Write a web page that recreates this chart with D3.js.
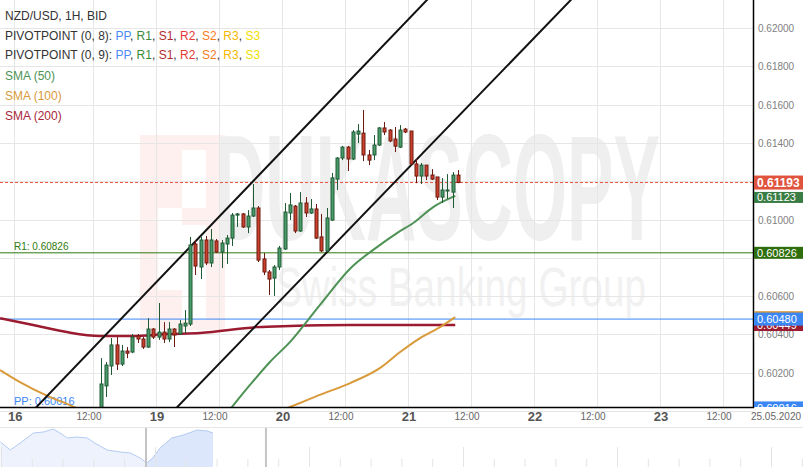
<!DOCTYPE html>
<html>
<head>
<meta charset="utf-8">
<script src="https://cdn.jsdelivr.net/npm/d3@7"></script>
<style>
  body { margin: 0; background: #fff; }
  svg { display: block; font-family: "Liberation Sans", Arial, sans-serif; }
</style>
</head>
<body>
<div id="chart"></div>
<script>
// hours are counted from 18.05.2020 00:00, one candle per hour
const firstCandleHour = 13;
const opens = [0.59995,0.60131,0.60235,0.60345,0.60245,0.60313,0.60308,0.60392,0.60376,0.60334,
  0.60428,0.60386,0.60412,0.60376,0.60428,0.60402,0.60444,0.60454,0.60872,0.60752,
  0.60893,0.60773,0.60888,0.60830,0.60872,0.60903,0.61023,0.61029,0.60961,0.61018,
  0.61060,0.60794,0.60726,0.60694,0.60752,0.60846,0.61034,0.61070,0.60940,0.61086,
  0.61034,0.61055,0.60909,0.60836,0.60997,0.61211,0.61321,0.61378,0.61316,0.61446,
  0.61451,0.61337,0.61337,0.61389,0.61478,0.61467,0.61420,0.61378,0.61472,0.61462,
  0.61290,0.61227,0.61284,0.61232,0.61222,0.61117,0.61149,0.61143,0.61232];
const highs = [0.60276,0.60256,0.60381,0.60386,0.60345,0.60334,0.60402,0.60402,0.60386,0.60485,
  0.60433,0.60564,0.60464,0.60464,0.60433,0.60475,0.60527,0.60909,0.60893,0.60909,
  0.60914,0.60950,0.60898,0.60893,0.60919,0.61034,0.61034,0.61034,0.61049,0.61185,
  0.61070,0.60825,0.60736,0.60762,0.60862,0.61086,0.61138,0.61076,0.61143,0.61117,
  0.61107,0.61081,0.61029,0.61060,0.61243,0.61326,0.61384,0.61384,0.61467,0.61498,
  0.61572,0.61363,0.61441,0.61483,0.61509,0.61472,0.61483,0.61493,0.61478,0.61462,
  0.61316,0.61295,0.61284,0.61263,0.61222,0.61216,0.61237,0.61248,0.61258];
const lows = [0.59953,0.60073,0.60188,0.60214,0.60235,0.60276,0.60302,0.60355,0.60324,0.60329,
  0.60376,0.60371,0.60355,0.60360,0.60334,0.60397,0.60407,0.60444,0.60710,0.60689,
  0.60762,0.60752,0.60825,0.60747,0.60768,0.60862,0.60961,0.60956,0.60929,0.61013,
  0.60778,0.60710,0.60606,0.60601,0.60736,0.60841,0.60997,0.60929,0.60935,0.61013,
  0.61029,0.60898,0.60830,0.60830,0.60992,0.61154,0.61310,0.61253,0.61310,0.61399,
  0.61305,0.61284,0.61310,0.61384,0.61441,0.61404,0.61352,0.61373,0.61451,0.61284,
  0.61190,0.61185,0.61206,0.61206,0.61102,0.61086,0.61107,0.61060,0.61190];
const closes = [0.60141,0.60240,0.60345,0.60245,0.60313,0.60302,0.60386,0.60376,0.60334,0.60428,
  0.60386,0.60412,0.60376,0.60428,0.60397,0.60454,0.60459,0.60867,0.60757,0.60893,
  0.60773,0.60893,0.60830,0.60877,0.60903,0.61023,0.61029,0.60961,0.61018,0.61060,
  0.60788,0.60726,0.60689,0.60752,0.60851,0.61039,0.61076,0.60940,0.61086,0.61034,
  0.61055,0.60903,0.60836,0.61008,0.61217,0.61321,0.61378,0.61316,0.61457,0.61462,
  0.61337,0.61310,0.61389,0.61478,0.61457,0.61410,0.61383,0.61467,0.61457,0.61290,
  0.61227,0.61284,0.61227,0.61211,0.61117,0.61154,0.61154,0.61232,0.61193];

// moving averages, [hour, price]
const sma50 = [[37.1,0.59974],[41.9,0.60136],[45.7,0.60256],[49.5,0.60360],[55.2,0.60553],
  [61.1,0.60747],[66.1,0.60856],[69.9,0.60929],[73.0,0.60982],[76.8,0.61065],[81.0,0.61123]];
const sma100 = [[-5.7,0.60214],[-1.9,0.60151],[2.9,0.60084],[7.6,0.60031],[10.5,0.59995],
  [22.9,0.59927],[41.9,0.59953],[49.5,0.60021],[55.2,0.60084],[61.0,0.60146],[66.7,0.60225],
  [70.5,0.60308],[74.3,0.60381],[78.1,0.60438],[81.0,0.60490]];
const sma200 = [[-5.7,0.60485],[0.6,0.60449],[7.0,0.60412],[13.3,0.60392],[19.6,0.60392],
  [26.1,0.60402],[32.4,0.60407],[43.2,0.60438],[49.5,0.60444],[61.0,0.60449],[70.5,0.60449],[81.0,0.60449]];

// drawn trend channel, two anchor points each
const channelUpper = [[0.2,0.59991],[75.6,0.62146]];
const channelLower = [[27.0,0.59991],[103.0,0.62146]];

const pivotR1 = 0.60826, pivotPP = 0.60480, pivotPPLow = 0.60016;
const lastPrice = 0.61193;

const priceTicks = d3.range(0.600, 0.6205, 0.002);
const dayTickHours = [-3, 24, 48, 72, 96, 120];
const dayTickLabels = ["16", "19", "20", "21", "22", "23"];
const noonTickHours = [12, 36, 60, 84, 108, 132];

// overview strip under the chart
const navHours = [-176,-164,-152,-136,-124,-112,-104,-95,-83,-71,-62,-47,-31,-19,-7,1,8,17,31,45,62,74,81];
const navValues = [0.6025,0.5985,0.602,0.607,0.6075,0.609,0.607,0.6045,0.605,0.6045,0.602,0.5985,
  0.5975,0.597,0.5945,0.592,0.5945,0.5995,0.6045,0.606,0.6085,0.608,0.607];

const W = 803, H = 467;
const plotW = 753, plotH = 407;

const x = d3.scaleLinear().domain([-5.714, 137.714]).range([0, plotW]);
const y = d3.scaleLinear().domain([0.600209, 0.621462]).range([plotH, 0]);

const svg = d3.select('#chart').append('svg')
  .attr('width', W).attr('height', H);

svg.append('defs').append('clipPath').attr('id', 'plot')
  .append('rect').attr('width', plotW).attr('height', plotH);
svg.select('defs').append('clipPath').attr('id', 'tags')
  .append('rect').attr('x', plotW).attr('width', W - plotW).attr('height', plotH);

// watermark
const wm = svg.append('g').attr('clip-path', 'url(#plot)');
wm.append('rect').attr('x', 140).attr('y', 135).attr('width', 85).attr('height', 195).attr('fill', '#fdf0ef');
wm.append('rect').attr('x', 158).attr('y', 208).attr('width', 24).attr('height', 82).attr('fill', '#fff');
wm.append('rect').attr('x', 182).attr('y', 150).attr('width', 24).attr('height', 58).attr('fill', '#fff');
wm.append('rect').attr('x', 182).attr('y', 225).attr('width', 24).attr('height', 95).attr('fill', '#fff');

// squeeze a text horizontally so it spans the given width
function stretchText(g, str, left, base, size, width, fill, weight) {
  const t = g.append('text').attr('font-size', size).attr('font-weight', weight)
    .attr('fill', fill).text(str);
  const w = t.node().getComputedTextLength();
  t.attr('transform', `translate(${left},${base}) scale(${width / w},1)`);
}
stretchText(wm, 'DUKASCOPY', 215, 240, 150, 445, '#efefef', 'bold');
stretchText(wm, 'Swiss Banking Group', 276, 306, 55, 370, '#f1f1f1', 'normal');

// grid
const grid = svg.append('g').attr('stroke', '#e6e6e6').attr('stroke-width', 1);
grid.selectAll('line.h').data(priceTicks).join('line')
  .attr('x1', 0).attr('x2', plotW)
  .attr('y1', d => Math.round(y(d)) + 0.5).attr('y2', d => Math.round(y(d)) + 0.5);
grid.selectAll('line.v').data(dayTickHours.concat(noonTickHours)).join('line')
  .attr('y1', 0).attr('y2', plotH)
  .attr('x1', d => Math.round(x(d)) + 0.5).attr('x2', d => Math.round(x(d)) + 0.5);

const plot = svg.append('g').attr('clip-path', 'url(#plot)');

// pivot levels
plot.append('line').attr('x1', 0).attr('x2', plotW)
  .attr('y1', y(pivotR1)).attr('y2', y(pivotR1))
  .attr('stroke', '#2f7a0f').attr('stroke-width', 1);
plot.append('line').attr('x1', 0).attr('x2', plotW)
  .attr('y1', y(pivotPP)).attr('y2', y(pivotPP))
  .attr('stroke', '#3b86f5').attr('stroke-width', 1);
plot.append('line').attr('x1', 0).attr('x2', plotW)
  .attr('y1', y(pivotPPLow)).attr('y2', y(pivotPPLow))
  .attr('stroke', '#3b86f5').attr('stroke-width', 1);
plot.append('line').attr('x1', 0).attr('x2', plotW)
  .attr('y1', y(lastPrice)).attr('y2', y(lastPrice))
  .attr('stroke', '#e8553f').attr('stroke-width', 1).attr('stroke-dasharray', '3,2');

plot.append('text').attr('x', 14).attr('y', y(pivotR1) - 3)
  .attr('font-size', 10).attr('fill', '#2f7a0f').text('R1: ' + pivotR1.toFixed(5));
plot.append('text').attr('x', 14).attr('y', y(pivotPPLow) - 3)
  .attr('font-size', 11).attr('fill', '#3b86f5').text('PP: ' + pivotPPLow.toFixed(5));

// moving averages
const line = d3.line().x(d => x(d[0])).y(d => y(d[1])).curve(d3.curveMonotoneX);
plot.append('path').attr('d', line(sma200)).attr('fill', 'none')
  .attr('stroke', '#9b1b30').attr('stroke-width', 2.5);
plot.append('path').attr('d', line(sma100)).attr('fill', 'none')
  .attr('stroke', '#d99a3a').attr('stroke-width', 2);
plot.append('path').attr('d', line(sma50)).attr('fill', 'none')
  .attr('stroke', '#4e9256').attr('stroke-width', 2);

// channel
function extend(pts) {
  const k = (pts[1][1] - pts[0][1]) / (pts[1][0] - pts[0][0]);
  const h0 = -10, h1 = 140;
  return [[h0, pts[0][1] + k * (h0 - pts[0][0])], [h1, pts[0][1] + k * (h1 - pts[0][0])]];
}
[channelUpper, channelLower].forEach(c => {
  plot.append('path').attr('d', d3.line().x(d => x(d[0])).y(d => y(d[1]))(extend(c)))
    .attr('stroke', '#111').attr('stroke-width', 2).attr('fill', 'none');
});

// candles
const candles = opens.map((o, i) => ({
  h: firstCandleHour + i, o: o, hi: highs[i], lo: lows[i], c: closes[i]
}));
const cg = plot.selectAll('g.candle').data(candles).join('g').attr('class', 'candle');
const up = d => d.c >= d.o;
cg.append('line')
  .attr('x1', d => Math.round(x(d.h + 0.5)) + 0.5).attr('x2', d => Math.round(x(d.h + 0.5)) + 0.5)
  .attr('y1', d => y(d.hi)).attr('y2', d => y(d.lo))
  .attr('stroke', d => up(d) ? '#1f5a34' : '#6e1a10').attr('stroke-width', 1);
cg.append('rect')
  .attr('x', d => Math.round(x(d.h + 0.5)) - 1)
  .attr('width', 3)
  .attr('y', d => y(Math.max(d.o, d.c)))
  .attr('height', d => Math.max(1, y(Math.min(d.o, d.c)) - y(Math.max(d.o, d.c))))
  .attr('fill', d => up(d) ? '#4b9a6a' : '#c9412e')
  .attr('stroke', d => up(d) ? '#1f5a34' : '#6e1a10').attr('stroke-width', 1);

// axes
svg.append('line').attr('x1', plotW + 0.5).attr('x2', plotW + 0.5).attr('y1', 0).attr('y2', plotH + 1)
  .attr('stroke', '#000').attr('stroke-width', 1.5);
svg.append('line').attr('x1', 0).attr('x2', plotW + 1).attr('y1', plotH + 0.5).attr('y2', plotH + 0.5)
  .attr('stroke', '#000').attr('stroke-width', 1.5);

// value tags on the price axis (listed first so that covered tick labels can be skipped)
const tagList = [
  { v: sma200[sma200.length - 1][1], h: 12, fill: '#9b1b30' },
  { v: sma100[sma100.length - 1][1], h: 12, fill: '#d99a3a' },
  { v: pivotPP, h: 13, fill: '#3b86f5' },
  { v: pivotPPLow, h: 13, fill: '#3b86f5' },
  { v: pivotR1, h: 12, fill: '#2f6e0c' },
  { v: lastPrice, h: 14, fill: '#e0533d', bold: true },
  { v: sma50[sma50.length - 1][1], h: 11, fill: '#3a7d44', shift: 1.5 }
];
const covered = d => tagList.some(t => Math.abs(y(t.v) + (t.shift || 0) - y(d)) < t.h / 2 + 1);

svg.append('g').selectAll('text').data(priceTicks.filter(d => y(d) > 6 && y(d) < plotH - 6 && !covered(d))).join('text')
  .attr('x', 758).attr('y', d => y(d) + 4)
  .attr('font-size', 10).attr('fill', '#808080')
  .text(d => d.toFixed(5));

const tags = svg.append('g').attr('clip-path', 'url(#tags)');
tagList.forEach(t => {
  const cy = y(t.v) + (t.shift || 0);
  tags.append('rect').attr('x', plotW + 1).attr('y', cy - t.h / 2).attr('width', W - plotW - 1).attr('height', t.h)
    .attr('fill', t.fill);
  tags.append('text').attr('x', plotW + 4).attr('y', cy + 4)
    .attr('font-size', t.bold ? 12 : 11).attr('font-weight', t.bold ? 'bold' : 'normal')
    .attr('fill', '#fff').text(t.v.toFixed(5));
});

// time labels
const tl = svg.append('g');
tl.selectAll('text.day').data(dayTickHours).join('text')
  .attr('x', d => x(d) + 1).attr('y', 421).attr('text-anchor', 'middle')
  .attr('font-size', 13).attr('font-weight', 'bold').attr('fill', '#555')
  .text((d, i) => dayTickLabels[i]);
tl.selectAll('text.noon').data(noonTickHours).join('text')
  .attr('x', d => x(d) - 4).attr('y', 420).attr('text-anchor', 'middle')
  .attr('font-size', 10).attr('fill', '#666').text('12:00');
tl.append('text').attr('x', 776).attr('y', 420).attr('text-anchor', 'middle')
  .attr('font-size', 10).attr('fill', '#666').text('25.05.2020');

// navigator
const navTop = 427;
const nx = d3.scaleLinear().domain([0, 81]).range([146, 213]);
const ny = d3.scaleLinear().domain([0.590, 0.610]).range([H, navTop]);
svg.append('line').attr('x1', 0).attr('x2', W).attr('y1', navTop + 0.5).attr('y2', navTop + 0.5)
  .attr('stroke', '#e6e6e6');
const navPts = navHours.map((h, i) => [h, navValues[i]]);
const area = d3.area().x(d => nx(d[0])).y0(H).y1(d => ny(d[1]));
svg.append('path').attr('d', area(navPts)).attr('fill', '#edf2fc');
svg.append('clipPath').attr('id', 'navsel').append('rect')
  .attr('x', nx(0)).attr('width', nx(81) - nx(0)).attr('y', navTop).attr('height', H - navTop);
svg.append('path').attr('d', area(navPts)).attr('fill', '#dce7fb').attr('clip-path', 'url(#navsel)');
svg.append('path').attr('d', d3.line().x(d => nx(d[0])).y(d => ny(d[1]))(navPts))
  .attr('fill', 'none').attr('stroke', '#b4cbf3').attr('stroke-width', 1);
svg.append('g').selectAll('line').data(d3.range(0, 6)).join('line')
  .attr('x1', d => 1.5 + d * 154).attr('x2', d => 1.5 + d * 154)
  .attr('y1', 447).attr('y2', H).attr('stroke', '#e4e4e4');
svg.append('g').selectAll('line').data(d3.range(0, 27).filter(i => i % 5 !== 0)).join('line')
  .attr('x1', d => 1.5 + d * 30.8).attr('x2', d => 1.5 + d * 30.8)
  .attr('y1', 459).attr('y2', H).attr('stroke', '#e4e4e4');
svg.append('g').selectAll('line').data([0, 145]).join('line')
  .attr('x1', d => nx(d)).attr('x2', d => nx(d))
  .attr('y1', navTop + 1).attr('y2', H).attr('stroke', '#c4c4c4').attr('stroke-width', 2);

// legend
const legend = svg.append('g').attr('font-size', 12);
legend.append('text').attr('x', 5).attr('y', 20).attr('fill', '#333').text('NZD/USD, 1H, BID');
const pivotColors = [['PP', '#4a8af4'], ['R1', '#3a8a3a'], ['S1', '#b22c2c'], ['R2', '#e53935'],
  ['S2', '#f57c1f'], ['R3', '#f5b800'], ['S3', '#f0e000']];
['PIVOTPOINT (0, 8): ', 'PIVOTPOINT (0, 9): '].forEach((lab, j) => {
  const t = legend.append('text').attr('x', 5).attr('y', 40 + j * 19);
  t.append('tspan').attr('fill', '#333').text(lab);
  pivotColors.forEach((p, i) => {
    t.append('tspan').attr('fill', p[1]).text(p[0]);
    if (i < pivotColors.length - 1) t.append('tspan').attr('fill', '#333').text(', ');
  });
});
legend.append('text').attr('x', 5).attr('y', 80).attr('fill', '#4e9256').text('SMA (50)');
legend.append('text').attr('x', 5).attr('y', 100).attr('fill', '#d99a3a').text('SMA (100)');
legend.append('text').attr('x', 5).attr('y', 120).attr('fill', '#a8283a').text('SMA (200)');
</script>
</body>
</html>
